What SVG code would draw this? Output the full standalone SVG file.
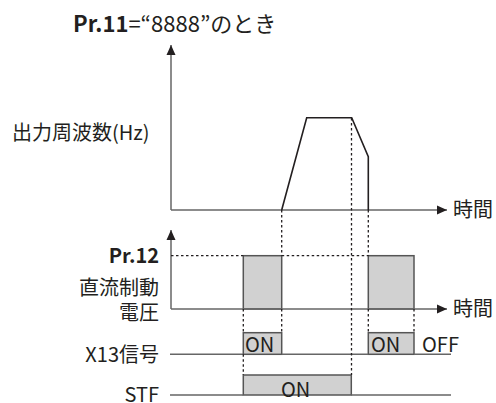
<svg xmlns="http://www.w3.org/2000/svg" width="496" height="403" viewBox="0 0 496 403">
<style>
text{font-family:"Noto Sans CJK JP","Noto Sans",sans-serif;font-size:20px;fill:#231f20}
.b{font-weight:bold}
.r{text-anchor:end}
.t{font-size:22px}
.ax{stroke:#666;stroke-width:1.5;fill:none}
.sig{stroke:#666;stroke-width:1.5;fill:none}
.box{fill:#d1d1d1;stroke:#555;stroke-width:1.5}
.dot{stroke:#231f20;stroke-width:1.3;stroke-dasharray:2.5 2.5;fill:none}
.curve{stroke:#231f20;stroke-width:1.6;fill:none}
</style>
<defs>
<marker id="ah" markerWidth="10" markerHeight="10" refX="10" refY="5" orient="auto" markerUnits="userSpaceOnUse">
<path d="M0,0.5 L10,5 L0,9.5 Z" fill="#231f20"/>
</marker>
</defs>
<g id="title"><text class="t" x="73" y="32"><tspan class="b">Pr.11</tspan>=“8888”のとき</text></g>
<g id="labels">
<text x="12" y="140">出力周波数(Hz)</text>
<text class="r b" x="159" y="263">Pr.12</text>
<text class="r" x="159" y="295">直流制動</text>
<text class="r" x="159" y="320">電圧</text>
<text class="r" x="159" y="362">X13信号</text>
<text class="r" x="159" y="402">STF</text>
<text x="453" y="217">時間</text>
<text x="453" y="316">時間</text>
</g>
<g id="boxes">
<rect class="box" x="243.3" y="255.7" width="38.4" height="53.3"/>
<rect class="box" x="368.3" y="255.7" width="45.7" height="53.3"/>
<rect class="box" x="243.3" y="332.7" width="38.4" height="21.6"/>
<rect class="box" x="368.3" y="332.7" width="45.7" height="21.6"/>
<rect class="box" x="243.3" y="375" width="108" height="20"/>
<text x="245" y="351.5">ON</text>
<text x="371" y="351.5">ON</text>
<text x="422" y="351.5">OFF</text>
<text x="281" y="397">ON</text>
</g>
<g id="connectors">
<path class="ax" d="M171,210 V45" marker-end="url(#ah)"/>
<path class="ax" d="M171,210 H447" marker-end="url(#ah)"/>
<path class="ax" d="M171,309 V230" marker-end="url(#ah)"/>
<path class="ax" d="M171,309 H447" marker-end="url(#ah)"/>
<path class="curve" d="M281.7,210 L306.7,117.7 L351.7,117.7 L368.3,156.7 V210"/>
<path class="sig" d="M170,354.3 H243.3 M281.7,354.3 H368.3 M414,354.3 H451"/>
<path class="sig" d="M170,395 H243.3 M351.3,395 H451"/>
<path class="dot" d="M171,255.7 H243.3 M281.7,255.7 H368.3"/>
<path class="dot" d="M281.7,210 V255.7 M281.7,309 V332.7"/>
<path class="dot" d="M351.5,118 V375"/>
<path class="dot" d="M368.3,210 V255.7 M368.3,309 V332.7"/>
<path class="dot" d="M243.3,309 V332.7 M243.3,354.3 V375"/>
<path class="dot" d="M414,309 V332.7"/>
</g>
</svg>
